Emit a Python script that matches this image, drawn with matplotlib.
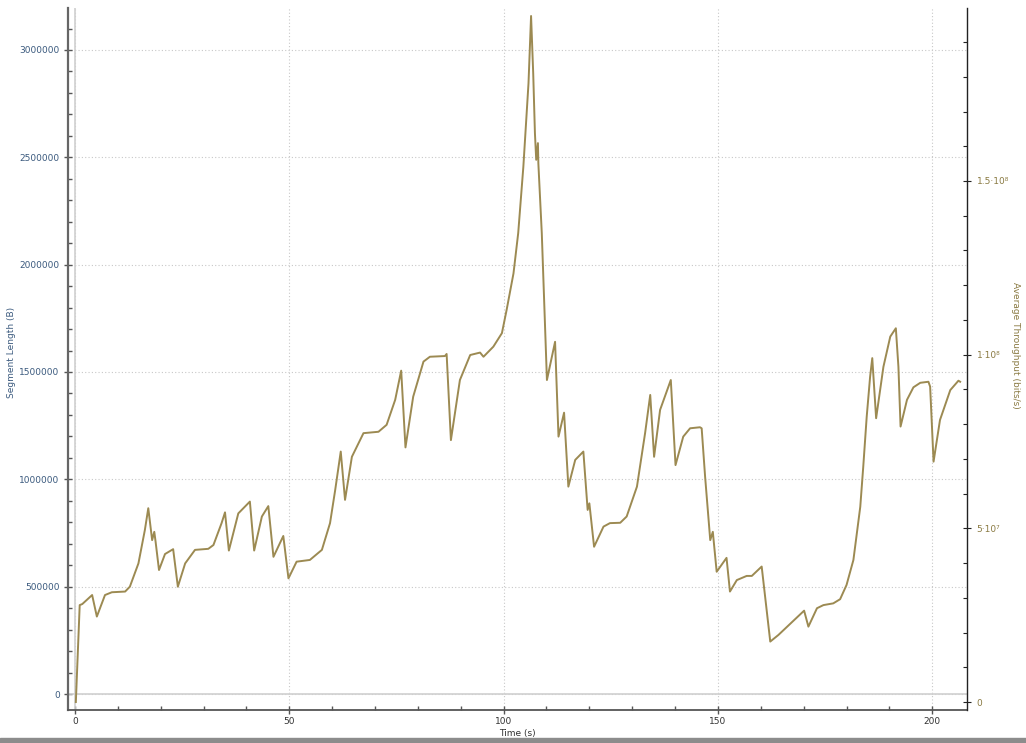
import numpy as np
import matplotlib
matplotlib.use('Agg')
import matplotlib.pyplot as plt
from matplotlib.patches import Rectangle
from matplotlib.ticker import MultipleLocator, FixedLocator, FixedFormatter

# 平均吞吐量曲线（时间 s，吞吐量 Mbit/s）
time_s = [0.2, 1.1, 1.7, 4.0, 5.1, 7.0, 8.6, 11.7, 12.8, 14.8, 16.3, 17.1,
          18.0, 18.5, 18.8, 19.6, 21.0, 22.9, 24.0, 25.7, 28.0, 31.1, 32.3,
          34.2, 35.0, 35.9, 38.1, 40.8, 41.8, 43.6, 45.1, 46.3, 48.6, 49.8,
          51.7, 54.8, 57.6, 59.5, 60.7, 62.0, 63.0, 64.6, 67.3, 70.8, 72.7,
          74.7, 76.1, 77.1, 78.9, 81.3, 82.8, 86.3, 86.7, 87.7, 89.8, 92.2,
          94.5, 95.3, 97.6, 99.6, 100.7, 102.3, 103.4, 104.6, 105.8, 106.4,
          106.9, 107.3, 107.6, 108.0, 108.1, 108.9, 109.3, 110.1, 112.0,
          112.8, 114.1, 115.1, 116.7, 118.6, 119.6, 120.0, 121.1, 123.3,
          124.8, 127.2, 128.7, 131.1, 133.0, 134.2, 135.1, 136.5, 139.0,
          140.1, 141.9, 143.5, 145.8, 146.2, 147.0, 148.2, 148.8, 149.7,
          152.0, 152.8, 154.4, 156.7, 157.9, 160.2, 162.2, 164.1, 170.1,
          171.1, 173.1, 174.6, 176.9, 178.5, 180.0, 181.6, 183.2, 183.9,
          184.7, 185.5, 186.0, 186.9, 188.6, 190.2, 191.5, 192.1, 192.6,
          194.1, 195.6, 197.2, 199.1, 199.5, 200.3, 201.8, 204.2, 206.1,
          206.5]
throughput_mbps = [0.0, 27.9, 28.2, 30.8, 24.6, 30.8, 31.6, 31.8, 33.2, 39.9,
                   49.5, 55.8, 46.6, 49.0, 46.2, 38.0, 42.6, 44.0, 33.2, 39.9,
                   43.8, 44.1, 45.2, 51.5, 54.6, 43.6, 54.3, 57.7, 43.6, 53.4,
                   56.4, 41.8, 47.8, 35.6, 40.4, 40.9, 43.8, 51.5, 61.0, 72.1,
                   58.2, 70.6, 77.4, 77.8, 79.8, 87.0, 95.4, 73.3, 87.9, 98.0,
                   99.4, 99.6, 100.2, 75.4, 92.7, 99.9, 100.6, 99.4, 102.3,
                   106.2, 112.9, 123.4, 135.0, 154.1, 178.1, 197.5, 181.0,
                   163.8, 156.1, 160.9, 155.1, 135.0, 120.6, 92.7, 103.7, 76.4,
                   83.3, 62.0, 69.7, 72.1, 55.3, 57.2, 44.7, 50.5, 51.5, 51.6,
                   53.4, 62.0, 77.4, 88.4, 70.6, 84.1, 92.7, 68.2, 76.4, 78.8,
                   79.1, 78.8, 64.9, 46.6, 49.0, 37.5, 41.5, 31.8, 35.1, 36.3,
                   36.3, 39.0, 17.4, 19.3, 26.3, 21.7, 27.0, 27.9, 28.4, 29.6,
                   33.7, 40.9, 56.2, 67.8, 82.1, 93.7, 99.0, 81.7, 96.5, 105.2,
                   107.6, 96.5, 79.3, 87.0, 90.6, 91.9, 92.2, 90.8, 69.2, 81.2,
                   89.8, 92.5, 92.2]

left_ticks = [0, 500000, 1000000, 1500000, 2000000, 2500000, 3000000]
left_labels = [str(v) for v in left_ticks]
right_ticks = [0, 5e7, 1e8, 1.5e8]
right_labels = ['0', '5·10⁷', '1·10⁸', '1.5·10⁸']
x_ticks = [0, 50, 100, 150, 200]

blue = '#3b5a7e'
olive = '#8a7a42'
line_color = '#9c8a52'

fig = plt.figure(figsize=(10.26, 7.43), dpi=100)
ax = fig.add_axes([68 / 1026, 33 / 743, 899 / 1026, 702 / 743])
ax2 = ax.twinx()

# 吞吐量曲线画在右轴上
ax2.plot(time_s, np.array(throughput_mbps) * 1e6, color=line_color, lw=1.4,
         solid_joinstyle='round')

ax.set_xlim(-1.63, 208.1)
ax.set_ylim(-74500, 3195600)
ax2.set_ylim(-2.3e6, 1.998e8)

# 网格及零线
ax.set_xticks(x_ticks)
ax.yaxis.set_major_locator(FixedLocator(left_ticks))
ax.yaxis.set_major_formatter(FixedFormatter(left_labels))
ax.grid(True, color='#c8c8c8', linestyle=(0, (1, 2)), lw=0.8)
ax.axhline(0, color='#d0d0d0', lw=1.2, zorder=1)
ax.axvline(0, color='#d0d0d0', lw=1.2, zorder=1)
ax.set_axisbelow(True)

ax.xaxis.set_minor_locator(MultipleLocator(10))
ax.yaxis.set_minor_locator(MultipleLocator(100000))
ax2.yaxis.set_major_locator(FixedLocator(right_ticks))
ax2.yaxis.set_major_formatter(FixedFormatter(right_labels))
ax2.yaxis.set_minor_locator(MultipleLocator(1e7))

ax.tick_params(axis='y', which='major', direction='inout', length=6, width=1,
               colors='#555555', labelcolor=blue, labelsize=6.5, pad=3)
ax.tick_params(axis='y', which='minor', direction='in', length=3, width=1,
               colors='#555555')
ax.tick_params(axis='x', which='major', direction='inout', length=6, width=1,
               colors='#555555', labelcolor='#333333', labelsize=6.5, pad=2)
ax.tick_params(axis='x', which='minor', direction='in', length=3, width=1,
               colors='#555555')
ax2.tick_params(axis='y', which='major', direction='inout', length=6, width=0.8,
                colors='#222222', labelcolor=olive, labelsize=6.5, pad=4)
ax2.tick_params(axis='y', which='minor', direction='in', length=3, width=0.8,
                colors='#222222')

for a in (ax, ax2):
    a.spines['top'].set_visible(False)
ax.spines['left'].set_color('#666666')
ax.spines['left'].set_linewidth(1.6)
ax.spines['bottom'].set_color('#555555')
ax.spines['bottom'].set_linewidth(1.3)
ax.spines['right'].set_visible(False)
ax2.spines['left'].set_visible(False)
ax2.spines['bottom'].set_visible(False)
ax2.spines['right'].set_color('#222222')
ax2.spines['right'].set_linewidth(1.0)

ax.set_xlabel('Time (s)', fontsize=6.5, color='#333333')
ax.xaxis.set_label_coords(0.5, -0.027)
ax.set_ylabel('Segment Length (B)', fontsize=6.5, color=blue)
ax.yaxis.set_label_coords(-0.058, 0.51)
ax2.set_ylabel('Average Throughput (bits/s)', fontsize=6.5, color=olive,
               rotation=-90, va='center')
ax2.yaxis.set_label_coords(1.054, 0.52)

# 底部灰色阴影条
fig.patches.append(Rectangle((0, 0), 1, 5 / 743, transform=fig.transFigure,
                             color='#8c8c8c', zorder=0))

plt.savefig('out.png', dpi=100)
